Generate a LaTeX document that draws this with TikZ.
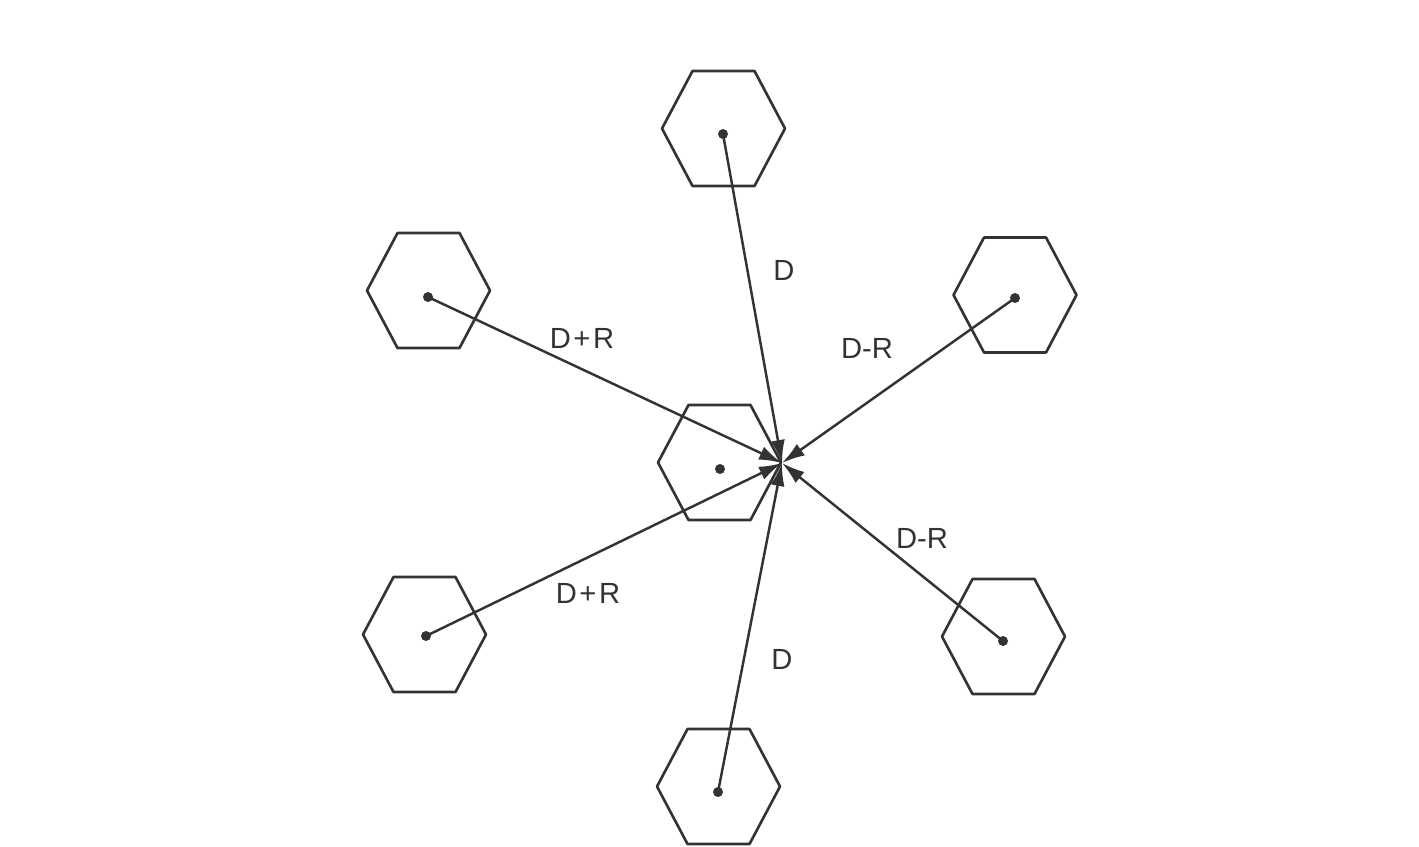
\documentclass[tikz,border=0pt]{standalone}
\usepackage{fontspec}
\setmainfont{Liberation Sans}
\usetikzlibrary{arrows.meta}
\definecolor{ink}{HTML}{333333}
\tikzset{
  hexline/.style={draw=ink, line width=1.5pt, line join=round},
  hex/.pic={\path[hexline] (-61.5,0) -- (-31,-57.5) -- (31,-57.5) -- (61.5,0) -- (31,57.5) -- (-31,57.5) -- cycle;},
  dot/.style={circle, fill=ink, inner sep=0pt, minimum size=0.2cm},
  arr/.style={draw=ink, line width=1.4pt, -{Latex[length=0.46cm,width=0.28cm]}},
  lbl/.style={inner sep=0pt, text=ink, font=\fontsize{16.6}{20}\selectfont},
}
\newcommand{\pl}{{\kern1.5pt}+{\kern1.5pt}}
\begin{document}
\begin{tikzpicture}[x=0.02cm, y=-0.02cm]
\useasboundingbox (0,0) rectangle (1419,846);
% hexagons
\pic at (723.5,128.5) {hex};   % top
\pic at (428.5,290.5) {hex};   % upper left
\pic at (1015,295)    {hex};   % upper right
\pic at (719.5,462.5) {hex};   % centre
\pic at (424.5,634.5) {hex};   % lower left
\pic at (1003.5,636.5){hex};   % lower right
\pic at (718.5,786.5) {hex};   % bottom
% dots
\node[dot] (dT)  at (723,134) {};
\node[dot] (dUL) at (428,297) {};
\node[dot] (dUR) at (1015,298) {};
\node[dot] (dC)  at (720,469) {};
\node[dot] (dLL) at (426,636) {};
\node[dot] (dLR) at (1003,641) {};
\node[dot] (dB)  at (718,792) {};
\coordinate (t) at (782,463);
% arrows
\draw[arr] (dT.center)  -- (t);
\draw[arr] (dUL.center) -- (t);
\draw[arr] (dUR.center) -- (t);
\draw[arr] (dLL.center) -- (t);
\draw[arr] (dLR.center) -- (t);
\draw[arr] (dB.center)  -- (t);
% labels
\node[lbl] (l1) at (784,270) {D};
\node[lbl] (l2) at (582,338) {D\pl R};
\node[lbl] (l3) at (867,348) {D-R};
\node[lbl] (l4) at (588,593) {D\pl R};
\node[lbl] (l5) at (922,538) {D-R};
\node[lbl] (l6) at (782,659) {D};
\end{tikzpicture}
\end{document}
